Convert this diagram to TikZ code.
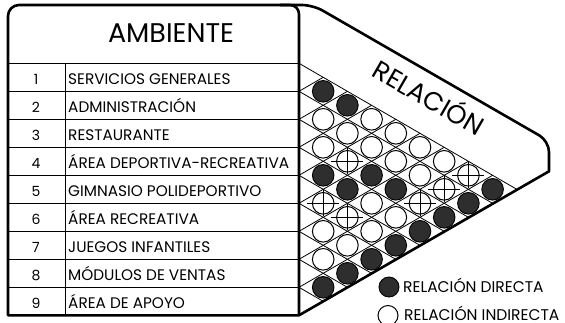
\documentclass[tikz,border=0pt]{standalone}
\usepackage{fontspec}
\setmainfont{Poppins}

\begin{document}
\begin{tikzpicture}[x=1pt, y=-1pt,
  frame/.style = {line width=2.6pt, line join=round},
  thinline/.style = {line width=0.8pt},
  directa/.style = {draw, line width=0.9pt, fill=black!82},
  indirecta/.style = {draw, line width=1pt, fill=white},
  rowtext/.style = {anchor=base west, inner sep=0pt, font=\fontsize{15.3}{15.3}\selectfont},
  numtext/.style = {anchor=base, inner sep=0pt, font=\fontsize{14}{14}\selectfont},
  legtext/.style = {anchor=base west, inner sep=0pt, font=\fontsize{15.5}{15.5}\selectfont}]
\def\xL{8}      % left edge of table
\def\xN{65}     % number column
\def\xT{299}    % right edge of table
\def\yTop{5}
\def\yT{63.3}   % top of row 1
\def\yB{315.3}  % bottom of table
\def\h{28}
\def\dx{24.2}
\def\dy{14}
\def\r{10.8}
\useasboundingbox (0,0) rectangle (565,322);

% Table lines
\draw [thinline] (\xL,\yT) -- (\xT,\yT);
\foreach \k in {1,...,8}
  \draw [thinline] (\xL,{\yT+\h*\k}) -- (\xT,{\yT+\h*\k});
\draw [thinline] (\xN,\yT) -- (\xN,\yB);

% Diamond grid
\foreach \k in {0,...,9} {
  \draw [thinline] (\xT,{\yT+\h*\k}) -- ({\xT+\dx*(9-\k)},{\yT+\h*\k+\dy*(9-\k)});
  \draw [thinline] (\xT,{\yT+\h*\k}) -- ({\xT+\dx*\k},{\yT+\dy*\k});
}

% Frame
\draw [frame] (\xL,\yB) -- (\xT,\yB) -- (549,171.3) [rounded corners=11pt]
  -- (549,141) -- (313,\yTop) -- (\xL,\yTop) -- (\xL,\yB) [sharp corners] -- cycle;
\draw [frame, rounded corners=9pt] (\xT,\yB) -- (\xT,\yTop) -- (280,\yTop);

% Header
\node [anchor=base, inner sep=0pt, font=\fontsize{27}{27}\selectfont] (ambiente) at (171,42.5) {AMBIENTE};
\node [rotate=-30, inner sep=0pt, font=\fontsize{26}{26}\selectfont] (relacion) at (430,96) {RELACIÓN};

% Rows
\foreach \i/\name in {1/SERVICIOS GENERALES, 2/ADMINISTRACIÓN, 3/RESTAURANTE,
    4/ÁREA DEPORTIVA-RECREATIVA, 5/GIMNASIO POLIDEPORTIVO, 6/ÁREA RECREATIVA,
    7/JUEGOS INFANTILES, 8/MÓDULOS DE VENTAS, 9/ÁREA DE APOYO} {
  \node [numtext] (num\i) at (36,{\yT+\h*(\i-0.5)+7.5}) {\i};
  \node [rowtext] (amb\i) at (68,{\yT+\h*(\i-0.5)+7.5}) {\name};
}

% Relacion directa
\foreach \i/\j in {1/2,1/3,1/9,2/9,3/6,3/7,3/9,4/5,4/6,4/9,5/9,6/9,7/9,8/9}
  \fill [directa] ({\xT+\dx*(\j-\i)},{\yT+\dy*(\i+\j-1)}) circle (\r);

% Relacion indirecta
\foreach \i/\j in {1/4,1/5,1/6,1/7,2/3,2/4,2/5,2/6,2/7,3/4,4/7,4/8,5/8,6/7,6/8,7/8}
  \filldraw [indirecta] ({\xT+\dx*(\j-\i)},{\yT+\dy*(\i+\j-1)}) circle (\r);

% Crossed
\foreach \i/\j in {1/8,2/8,3/5,3/8,5/6,5/7} {
  \coordinate (C) at ({\xT+\dx*(\j-\i)},{\yT+\dy*(\i+\j-1)});
  \filldraw [indirecta] (C) circle (\r);
  \draw [thinline] (C) ++(-16,0) -- ++(32,0);
  \draw [thinline] (C) ++(0,-13) -- ++(0,26);
}

% Legend
\fill [directa] (389,287) circle (10);
\node [legtext] (ldirecta) at (403,292.5) {RELACIÓN DIRECTA};
\filldraw [indirecta] (388,315.5) circle (10);
\node [legtext] (lindirecta) at (404,320.5) {RELACIÓN INDIRECTA};

\end{tikzpicture}
\end{document}
